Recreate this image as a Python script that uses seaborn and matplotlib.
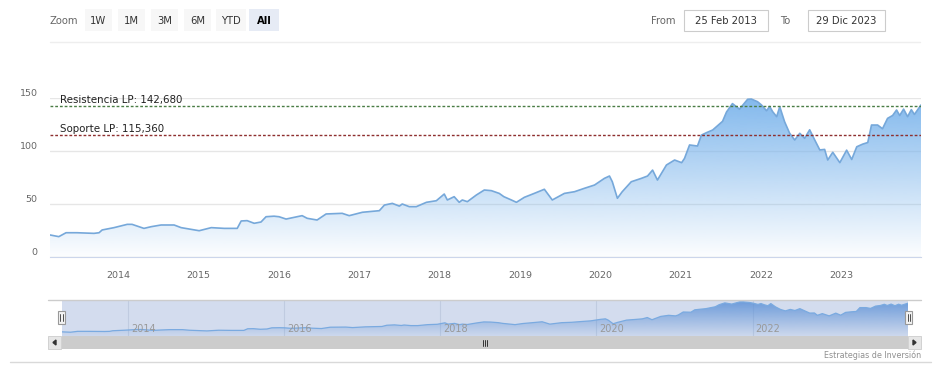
import numpy as np
import pandas as pd
import matplotlib
matplotlib.use("Agg")
import matplotlib.pyplot as plt
import matplotlib.transforms as mtransforms
from matplotlib.patches import Rectangle, Polygon
from matplotlib.lines import Line2D
import seaborn as sns

# price series
dates = [
    "2013-02-25", "2013-04-06", "2013-05-09", "2013-06-28", "2013-09-13", "2013-10-06",
    "2013-10-20", "2013-12-13", "2014-02-11", "2014-03-05", "2014-04-28", "2014-05-31",
    "2014-07-15", "2014-09-12", "2014-10-14", "2014-11-28", "2015-01-04", "2015-02-28",
    "2015-04-28", "2015-06-26", "2015-07-14", "2015-08-10", "2015-09-11", "2015-10-12",
    "2015-11-04", "2015-12-10", "2016-01-02", "2016-02-03", "2016-04-16", "2016-05-09",
    "2016-06-23", "2016-08-03", "2016-10-15", "2016-11-16", "2017-01-15", "2017-04-02",
    "2017-04-25", "2017-05-31", "2017-07-02", "2017-07-15", "2017-08-16", "2017-09-17",
    "2017-11-02", "2017-12-17", "2018-01-22", "2018-02-05", "2018-03-08", "2018-03-31",
    "2018-04-14", "2018-05-07", "2018-06-17", "2018-07-23", "2018-08-24", "2018-09-29",
    "2018-10-20", "2018-11-23", "2018-12-16", "2019-01-21", "2019-03-07", "2019-04-22",
    "2019-05-28", "2019-07-22", "2019-09-06", "2019-10-21", "2019-12-06", "2020-01-20",
    "2020-02-12", "2020-02-25", "2020-03-19", "2020-04-10", "2020-05-21", "2020-07-06",
    "2020-08-03", "2020-08-26", "2020-09-17", "2020-10-28", "2020-12-04", "2021-01-05",
    "2021-01-18", "2021-02-10", "2021-03-18", "2021-04-05", "2021-04-28", "2021-05-26",
    "2021-07-10", "2021-07-28", "2021-08-24", "2021-09-25", "2021-11-01", "2021-11-18",
    "2021-12-16", "2022-01-03", "2022-01-26", "2022-02-09", "2022-02-23", "2022-03-13",
    "2022-03-27", "2022-04-18", "2022-05-11", "2022-06-03", "2022-06-26", "2022-07-18",
    "2022-08-10", "2022-09-02", "2022-09-25", "2022-10-17", "2022-10-31", "2022-11-23",
    "2022-12-25", "2023-01-25", "2023-02-17", "2023-03-12", "2023-04-08", "2023-05-01",
    "2023-05-18", "2023-06-15", "2023-07-07", "2023-07-30", "2023-08-22", "2023-09-09",
    "2023-09-23", "2023-10-11", "2023-10-29", "2023-11-15", "2023-11-29", "2023-12-29",
]
prices = [
    20.8, 19.2, 22.9, 22.9, 22.3, 22.9,
    25.5, 27.7, 30.8, 30.8, 27.0, 28.6,
    30.2, 30.2, 27.7, 26.1, 24.8, 27.7,
    27.0, 27.0, 34.0, 34.3, 31.8, 33.0,
    38.0, 38.5, 38.0, 35.8, 39.0, 36.5,
    34.9, 40.6, 41.2, 39.0, 42.2, 43.7,
    49.0, 50.6, 48.0, 50.0, 47.5, 47.5,
    51.6, 53.1, 59.4, 53.8, 56.9, 51.6,
    53.8, 52.2, 58.5, 63.2, 62.6, 60.0,
    56.9, 53.8, 51.6, 56.3, 60.0, 63.9,
    53.8, 60.0, 61.6, 64.8, 67.9, 74.2,
    76.4, 71.0, 55.4, 61.6, 71.0, 74.2,
    76.4, 82.0, 72.6, 86.8, 91.5, 89.0,
    93.0, 105.7, 104.7, 115.0, 117.3, 119.8,
    128.0, 136.8, 144.7, 139.5, 148.8, 149.0,
    146.5, 143.4, 138.0, 142.0, 137.0, 132.4,
    141.8, 127.6, 116.7, 110.4, 116.7, 112.0,
    120.0, 110.4, 101.0, 101.5, 91.5, 98.8,
    89.0, 100.8, 92.0, 104.0, 106.5, 108.0,
    124.5, 124.5, 121.0, 130.8, 133.5, 138.7,
    133.5, 139.5, 132.4, 139.0, 134.5, 143.4,
]

resistance = 142.680
support = 115.360
resistance_label = "Resistencia LP: 142,680"
support_label = "Soporte LP: 115,360"
years = list(range(2014, 2024))
nav_years = [2014, 2016, 2018, 2020, 2022]
y_ticks = [0, 50, 100, 150]
zoom_buttons = ["1W", "1M", "3M", "6M", "YTD", "All"]
date_from = "25 Feb 2013"
date_to = "29 Dic 2023"
credit = "Estrategias de Inversión"

df = pd.DataFrame({"date": pd.to_datetime(dates), "price": prices})
x_start, x_end = pd.Timestamp("2013-02-25"), pd.Timestamp("2023-12-29")

sns.set_style("white")
plt.rcParams["font.family"] = ["DejaVu Sans"]

W, H = 943, 377
fig = plt.figure(figsize=(W / 100, H / 100), dpi=100)


def fx(x):
    return x / W


def fy(y):
    return 1 - y / H


def box(x0, y0, x1, y1):
    return [fx(x0), fy(y1), (x1 - x0) / W, (y1 - y0) / H]


def gradient_area(ax, rgb, a_top, a_bot, y_top, y_bot):
    poly = ax.fill_between(df["date"], df["price"], y_bot, color="none", lw=0)
    rgba = np.zeros((256, 1, 4))
    rgba[..., :3] = rgb
    rgba[:, 0, 3] = np.linspace(a_top, a_bot, 256)
    x0, x1 = ax.get_xlim()
    im = ax.imshow(rgba, extent=[x0, x1, y_bot, y_top], aspect="auto",
                   origin="upper", zorder=1, interpolation="bilinear")
    im.set_clip_path(poly.get_paths()[0], transform=ax.transData)
    ax.set_xlim(x0, x1)


# ---- main chart ----
ax = fig.add_axes(box(50, 98, 921, 257))
ax.set_xlim(x_start, x_end)
ax.set_ylim(0, 150)
gradient_area(ax, (124 / 255, 181 / 255, 236 / 255), 0.95, 0.02, 150, 0)
sns.lineplot(data=df, x="date", y="price", ax=ax, color="#76a8da", lw=1.2, zorder=3)
ax.set_ylim(0, 150)
ax.set_xlim(x_start, x_end)

ax.set_yticks(y_ticks)
ax.set_yticklabels([str(v) for v in y_ticks])
for lbl in ax.get_yticklabels():
    lbl.set_va("bottom")
ax.yaxis.grid(True, color="#e6e6e6", lw=1)
ax.set_axisbelow(True)
ax.tick_params(axis="y", length=0, pad=9, labelsize=6.8, labelcolor="#666666")

ax.set_xticks(pd.to_datetime([f"{y}-01-01" for y in years]))
ax.set_xticklabels([str(y) for y in years])
ax.tick_params(axis="x", length=5, width=1, color="#ccd6eb", pad=5,
               labelsize=6.8, labelcolor="#666666")
for s in ["top", "left", "right"]:
    ax.spines[s].set_visible(False)
ax.spines["bottom"].set_color("#ccd6eb")
ax.set_xlabel("")
ax.set_ylabel("")

ax.axhline(resistance, color="#4a7d45", ls=(0, (2, 1.4)), lw=1, zorder=4)
ax.axhline(support, color="#8e2f2f", ls=(0, (2, 1.4)), lw=1, zorder=4)
trans = mtransforms.blended_transform_factory(ax.transAxes, ax.transData)
ax.text(0.0115, resistance + 2.6, resistance_label, transform=trans, fontsize=7.4,
        color="#222222", va="baseline", zorder=5)
ax.text(0.0115, support + 2.6, support_label, transform=trans, fontsize=7.4,
        color="#222222", va="baseline", zorder=5)

# ---- navigator ----
axn = fig.add_axes(box(62, 300, 908, 336))
axn.set_facecolor("#d3dcee")
axn.set_xlim(x_start, x_end)
axn.set_ylim(3, 157)
gradient_area(axn, (88 / 255, 142 / 255, 214 / 255), 0.85, 0.05, 157, 3)
sns.lineplot(data=df, x="date", y="price", ax=axn, color="#7aaae0", lw=0.9, zorder=3)
axn.set_xlim(x_start, x_end)
axn.set_ylim(3, 157)
for y in nav_years:
    d = pd.Timestamp(f"{y}-01-01")
    axn.axvline(d, color="#c0cbe0", lw=0.8, zorder=0.5)
    axn.text(d + pd.Timedelta(days=14), 0.2, str(y), transform=mtransforms.blended_transform_factory(
        axn.transData, axn.transAxes), fontsize=7, color="#999999", va="center", zorder=4)
axn.set_xticks([])
axn.set_yticks([])
axn.set_xlabel("")
axn.set_ylabel("")
for s in axn.spines.values():
    s.set_visible(False)

# navigator outline and handles
fig.add_artist(Line2D([fx(48), fx(921)], [fy(300), fy(300)], color="#cccccc", lw=1))
for hx in (58, 905):
    fig.add_artist(Rectangle((fx(hx), fy(324)), 7 / W, 13 / H, transform=fig.transFigure,
                             facecolor="#f2f2f2", edgecolor="#999999", lw=0.8))
    for dx in (2.5, 4.5):
        fig.add_artist(Line2D([fx(hx + dx)] * 2, [fy(314), fy(321)], color="#333333", lw=0.6))

# scrollbar
fig.add_artist(Rectangle((fx(62), fy(349)), 846 / W, 13 / H, transform=fig.transFigure,
                         facecolor="#cccccc", edgecolor="none"))
for bx in (48, 908):
    fig.add_artist(Rectangle((fx(bx), fy(349)), 13 / W, 13 / H, transform=fig.transFigure,
                             facecolor="#e6e6e6", edgecolor="#cccccc", lw=0.6))
fig.add_artist(Polygon([[fx(53), fy(342.5)], [fx(56), fy(340)], [fx(56), fy(345)]],
                       closed=True, transform=fig.transFigure, color="#333333"))
fig.add_artist(Polygon([[fx(916), fy(342.5)], [fx(913), fy(340)], [fx(913), fy(345)]],
                       closed=True, transform=fig.transFigure, color="#333333"))
for gx in (483, 485, 487):
    fig.add_artist(Line2D([fx(gx)] * 2, [fy(339.5), fy(345.5)], color="#333333", lw=0.7))

fig.text(fx(921), fy(355), credit, ha="right", va="center", fontsize=5.8, color="#909090")
fig.add_artist(Line2D([fx(10), fx(931)], [fy(362), fy(362)], color="#d9d9d9", lw=1))

# ---- range selector ----
fig.add_artist(Line2D([fx(50), fx(920)], [fy(42), fy(42)], color="#eeeeee", lw=1))
fig.text(fx(50), fy(20.5), "Zoom", fontsize=7.2, color="#666666", va="center")
for i, lab in enumerate(zoom_buttons):
    cx = 98 + 33.2 * i
    bw = 30 if lab in ("YTD", "All") else 27
    active = lab == "All"
    fig.add_artist(Rectangle((fx(cx - bw / 2), fy(31)), bw / W, 22 / H, transform=fig.transFigure,
                             facecolor="#e6ebf5" if active else "#f7f7f7", edgecolor="none"))
    fig.text(fx(cx), fy(20.5), lab, fontsize=7.2, ha="center", va="center",
             color="#000000" if active else "#333333",
             fontweight="bold" if active else "normal")

fig.text(fx(651), fy(20.5), "From", fontsize=7.2, color="#666666", va="center")
fig.text(fx(780), fy(20.5), "To", fontsize=7.2, color="#666666", va="center")
for (bx0, bx1), txt in [((684, 768), date_from), ((808, 885), date_to)]:
    fig.add_artist(Rectangle((fx(bx0), fy(31)), (bx1 - bx0) / W, 21 / H, transform=fig.transFigure,
                             facecolor="white", edgecolor="#cccccc", lw=0.8))
    fig.text(fx((bx0 + bx1) / 2), fy(20.5), txt, fontsize=7.2, ha="center", va="center",
             color="#333333")

fig.savefig("out.png", dpi=100)
